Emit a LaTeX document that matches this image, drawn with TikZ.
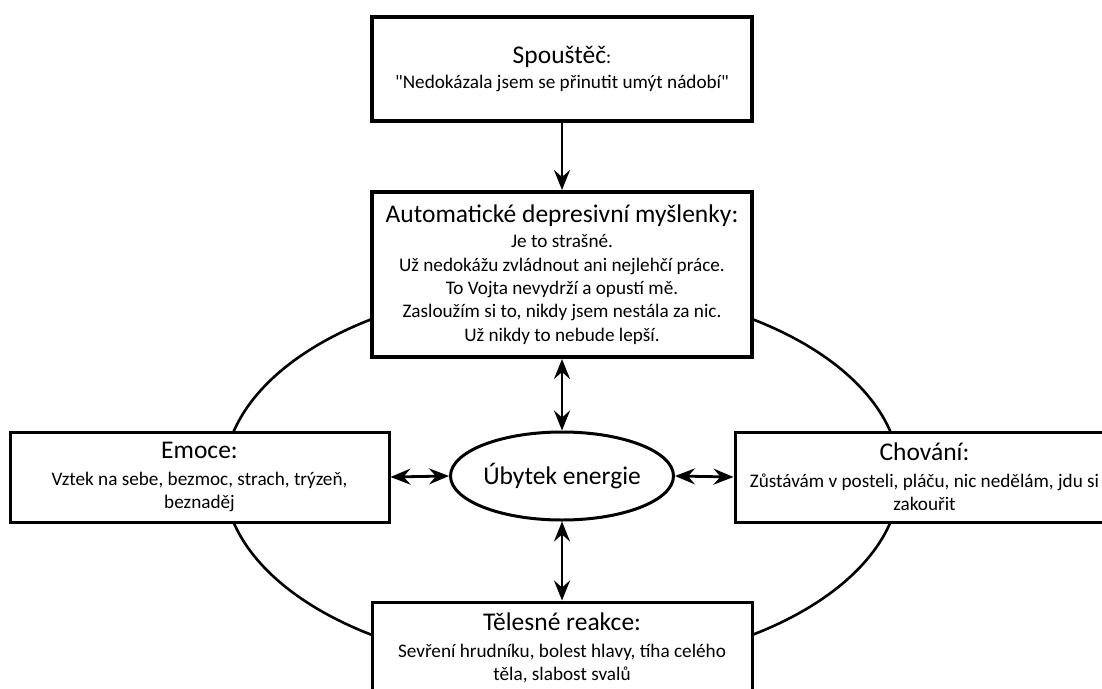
\documentclass[tikz,border=0pt]{standalone}
\usepackage{fontspec}
\setmainfont{Carlito}
\usetikzlibrary{arrows.meta,shapes.geometric,positioning}
\newcommand{\headline}[1]{{\fontsize{25.5}{30}\selectfont #1}}
\tikzstyle{mainBox}=[draw, fill=white, line width=4pt, align=center, inner sep=0pt, minimum width=380pt, font=\fontsize{19.2}{23.3}\selectfont]
\tikzstyle{sideBox}=[mainBox, line width=3pt, minimum width=379pt, minimum height=90pt]
\tikzstyle{energyNode}=[draw, fill=white, ellipse, line width=3pt, inner sep=0pt, minimum width=223pt, minimum height=88pt, font=\fontsize{25.5}{30}\selectfont]
\tikzstyle{cycleLine}=[line width=2.6pt]
\tikzstyle{oneWay}=[line width=2.8pt, -{Stealth[length=20pt,width=16pt,inset=7pt]}]
\tikzstyle{twoWay}=[line width=2.8pt, {Stealth[length=20pt,width=16pt,inset=7pt]}-{Stealth[length=20pt,width=16pt,inset=7pt]}]

\begin{document}
\begin{tikzpicture}[x=1pt,y=-1pt]
    \useasboundingbox (0,0) rectangle (1102,688);

    % Cycle behind the boxes
    \draw[cycleLine] (562,477) ellipse [x radius=338pt, y radius=191pt];

    \node[mainBox, minimum height=104pt] (trigger) at (562,69) {\headline{Spouštěč}:\\[2pt] \textquotedbl Nedokázala jsem se přinutit umýt nádobí\textquotedbl};
    \node[mainBox, minimum height=165pt] (thoughts) at (562,274.5) {\headline{Automatické depresivní myšlenky:}\\[2pt]
        Je to strašné.\\
        Už nedokážu zvládnout ani nejlehčí práce.\\
        To Vojta nevydrží a opustí mě.\\
        Zasloužím si to, nikdy jsem nestála za nic.\\
        Už nikdy to nebude lepší.};

    \node[sideBox] (emotions) at (199.5,477) {\headline{Emoce:}\\[3pt] Vztek na sebe, bezmoc, strach, trýzeň,\\ beznaděj};
    \node[sideBox] (behaviour) at (924.5,477) {\headline{Chování:}\\[3pt] Zůstávám v posteli, pláču, nic nedělám, jdu si\\ zakouřit};
    \node[sideBox, minimum width=380pt, minimum height=92pt] (body) at (562,648) {\headline{Tělesné reakce:}\\[3pt] Sevření hrudníku, bolest hlavy, tíha celého\\ těla, slabost svalů};

    \node[energyNode] (energy) at (562,476) {Úbytek energie};

    % Arrows
    \draw[oneWay] (trigger.south) -- (thoughts.north);
    \draw[twoWay] (thoughts.south) -- (energy.north);
    \draw[twoWay] (emotions.east) -- (energy.west);
    \draw[twoWay] (energy.east) -- (behaviour.west);
    \draw[twoWay] (energy.south) -- (body.north);

\end{tikzpicture}
\end{document}
